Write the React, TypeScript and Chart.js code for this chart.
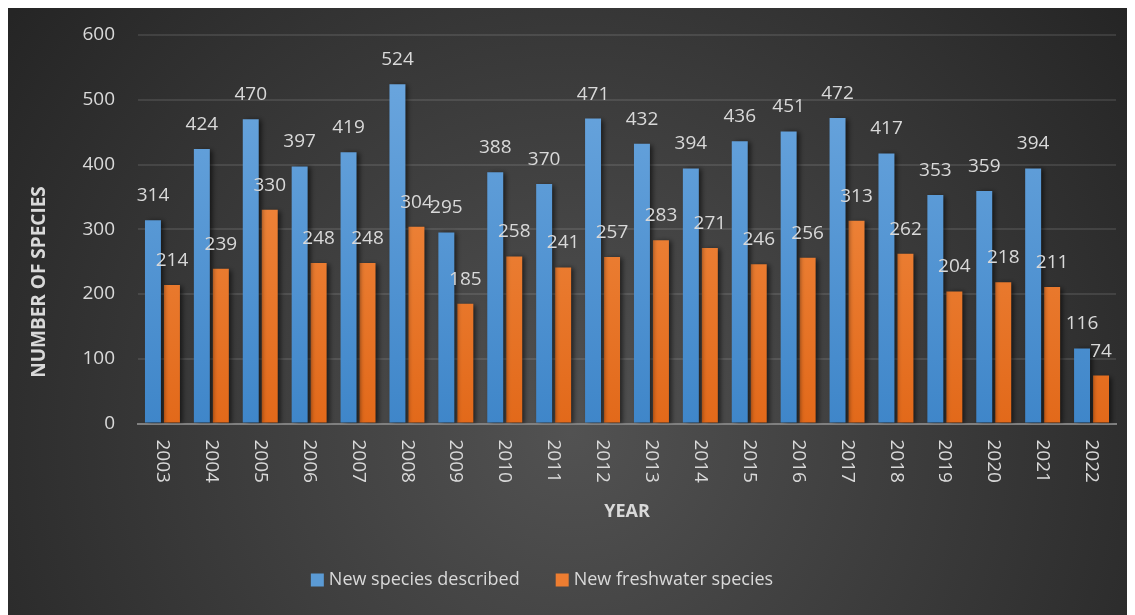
import { useEffect, useRef } from "react";
import { Chart, registerables } from "chart.js";

Chart.register(...registerables);

const years = ["2003", "2004", "2005", "2006", "2007", "2008", "2009", "2010", "2011", "2012", "2013", "2014", "2015", "2016", "2017", "2018", "2019", "2020", "2021", "2022"];
const newSpeciesDescribed = [314, 424, 470, 397, 419, 524, 295, 388, 370, 471, 432, 394, 436, 451, 472, 417, 353, 359, 394, 116];
const newFreshwaterSpecies = [214, 239, 330, 248, 248, 304, 185, 258, 241, 257, 283, 271, 246, 256, 313, 262, 204, 218, 211, 74];
const seriesNames = ["New species described", "New freshwater species"];
const yTitle = "NUMBER OF SPECIES";
const xTitle = "YEAR";
const yMin = 0;
const yMax = 600;
const yStep = 100;

const FONT = "'Open Sans', Lato, sans-serif";
const TEXT = "#d9d9d9";
const W = 1127;
const H = 609;

function vGrad(chart: any, top: string, bottom: string) {
  const area = chart.chartArea;
  if (!area) return bottom;
  const g = chart.ctx.createLinearGradient(0, area.top, 0, area.bottom);
  g.addColorStop(0, top);
  g.addColorStop(1, bottom);
  return g;
}

const bgPlugin = {
  id: "bg",
  beforeDraw(chart: any) {
    const { ctx, width, height } = chart;
    ctx.save();
    const g = ctx.createRadialGradient(width * 0.5, height * 0.7, 0, width * 0.5, height * 0.7, width * 0.62);
    g.addColorStop(0, "#525252");
    g.addColorStop(1, "#252525");
    ctx.fillStyle = g;
    ctx.fillRect(0, 0, width, height);
    ctx.restore();
  },
};

const shadowPlugin = {
  id: "barShadow",
  beforeDatasetsDraw(chart: any) {
    const ctx = chart.ctx;
    ctx.save();
    ctx.shadowColor = "rgba(0,0,0,0.6)";
    ctx.shadowBlur = 5;
    ctx.shadowOffsetX = 3;
    ctx.shadowOffsetY = 1;
  },
  afterDatasetsDraw(chart: any) {
    chart.ctx.restore();
  },
};

const labelsPlugin = {
  id: "valueLabels",
  afterDatasetsDraw(chart: any) {
    const ctx = chart.ctx;
    ctx.save();
    ctx.font = `19px ${FONT}`;
    ctx.fillStyle = TEXT;
    ctx.textAlign = "center";
    ctx.textBaseline = "alphabetic";
    chart.data.datasets.forEach((ds: any, di: number) => {
      const meta = chart.getDatasetMeta(di);
      meta.data.forEach((el: any, i: number) => {
        ctx.fillText(String(ds.data[i]), el.x, el.y - 19);
      });
    });
    ctx.restore();
  },
};

const xLabelsPlugin = {
  id: "xLabels",
  afterDraw(chart: any) {
    const ctx = chart.ctx;
    const xs = chart.scales.x;
    ctx.save();
    ctx.font = `19px ${FONT}`;
    ctx.fillStyle = TEXT;
    ctx.textAlign = "left";
    ctx.textBaseline = "middle";
    years.forEach((lab, i) => {
      const x = xs.getPixelForValue(i);
      ctx.save();
      ctx.translate(x, xs.top + 16);
      ctx.rotate(Math.PI / 2);
      ctx.fillText(lab, 0, 0);
      ctx.restore();
    });
    ctx.restore();
  },
};

const yTitlePlugin = {
  id: "yTitle",
  afterDraw(chart: any) {
    const ctx = chart.ctx;
    ctx.save();
    ctx.font = `bold 19px ${FONT}`;
    ctx.fillStyle = TEXT;
    ctx.textAlign = "center";
    ctx.textBaseline = "middle";
    ctx.translate(32, 276);
    ctx.rotate(-Math.PI / 2);
    ctx.fillText(yTitle, 0, 0);
    ctx.restore();
  },
};

const legendPlugin = {
  id: "customLegend",
  afterDraw(chart: any) {
    const ctx = chart.ctx;
    ctx.save();
    ctx.font = `18px ${FONT}`;
    const box = 13;
    const gapText = 5;
    const gapItem = 36;
    const colors = ["#5b9bd5", "#ed7d31"];
    const widths = seriesNames.map((n) => ctx.measureText(n).width);
    const total = box + gapText + widths[0] + gapItem + box + gapText + widths[1];
    let x = 534 - total / 2;
    const y = 574;
    ctx.textBaseline = "middle";
    ctx.textAlign = "left";
    seriesNames.forEach((n, i) => {
      ctx.fillStyle = colors[i];
      ctx.fillRect(x, y - box / 2, box, box);
      x += box + gapText;
      ctx.fillStyle = TEXT;
      ctx.fillText(n, x, y);
      x += widths[i] + gapItem;
    });
    ctx.restore();
  },
};

export default function App() {
  const ref = useRef<HTMLCanvasElement | null>(null);
  useEffect(() => {
    if (!ref.current) return;
    const chart = new Chart(ref.current, {
      type: "bar",
      data: {
        labels: years,
        datasets: [
          {
            label: seriesNames[0],
            data: newSpeciesDescribed,
            backgroundColor: (c: any) => vGrad(c.chart, "#6fa9e0", "#3f86c9"),
            categoryPercentage: 0.777,
            barPercentage: 0.84,
          },
          {
            label: seriesNames[1],
            data: newFreshwaterSpecies,
            backgroundColor: (c: any) => vGrad(c.chart, "#f5954f", "#e2691a"),
            categoryPercentage: 0.777,
            barPercentage: 0.84,
          },
        ],
      },
      options: {
        responsive: false,
        animation: false,
        layout: { padding: { left: 0, right: 19, top: 29, bottom: 91.5 } },
        plugins: { legend: { display: false }, tooltip: { enabled: false } },
        scales: {
          x: {
            grid: { display: false, drawTicks: false },
            border: { display: true, color: "#808080", width: 2 },
            ticks: { display: false },
            title: {
              display: true,
              text: xTitle,
              color: TEXT,
              font: { family: FONT, size: 18, weight: "bold" },
              padding: { top: 0, bottom: 1 },
            },
            afterFit: (s: any) => {
              s.height = 100;
              s.paddingLeft = 0;
              s.paddingRight = 0;
            },
          },
          y: {
            min: yMin,
            max: yMax,
            ticks: {
              stepSize: yStep,
              color: TEXT,
              font: { family: FONT, size: 19 },
              padding: 23,
            },
            grid: { color: "rgba(255,255,255,0.1)", lineWidth: 2, drawTicks: false },
            border: { display: false },
            title: { display: false },
            afterFit: (s: any) => {
              s.width = 130;
              s.paddingTop = 0;
              s.paddingBottom = 0;
            },
          },
        },
      },
      plugins: [bgPlugin, shadowPlugin, labelsPlugin, xLabelsPlugin, yTitlePlugin, legendPlugin],
    });
    return () => chart.destroy();
  }, []);
  return (
    <div style={{ marginTop: -2, width: W, height: H }}>
      <canvas ref={ref} width={W} height={H} style={{ display: "block" }} />
    </div>
  );
}
